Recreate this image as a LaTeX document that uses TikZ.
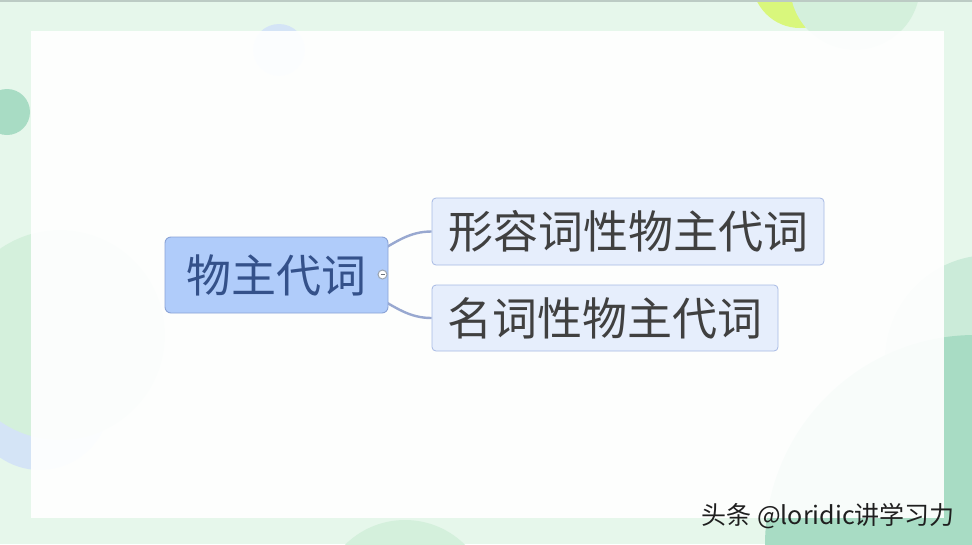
\documentclass[tikz,border=0pt]{standalone}
\usepackage{fontspec}
\setmainfont{Noto Sans CJK SC}
\definecolor{bggreen}{HTML}{E6F7EB}
\definecolor{lightgreen}{HTML}{D4F0DC}
\definecolor{midgreen}{HTML}{CBEBD9}
\definecolor{teal}{HTML}{A8DCC4}
\definecolor{yellowgreen}{HTML}{D9F77C}
\definecolor{paleblue}{HTML}{D4E4F6}
\definecolor{topline}{HTML}{BCCBC4}
\definecolor{rootfill}{HTML}{B0CCFA}
\definecolor{rootdraw}{HTML}{8AA3D6}
\definecolor{roottext}{HTML}{34518A}
\definecolor{kidfill}{HTML}{E6EEFC}
\definecolor{kiddraw}{HTML}{A7BAE4}
\definecolor{kidtext}{HTML}{404040}
\definecolor{linkcol}{HTML}{98A8D0}
\definecolor{markgray}{HTML}{9AA4B0}
\pgfdeclarelayer{deco}
\pgfdeclarelayer{links}
\pgfsetlayers{deco,links,main}
\tikzset{
  rootbox/.style={draw=rootdraw, fill=rootfill, line width=0.9pt, rounded corners=6pt,
    text=roottext, font=\fontsize{45}{50}\selectfont, inner sep=0pt,
    minimum width=223pt, minimum height=76pt},
  kidbox/.style={draw=kiddraw, fill=kidfill, line width=0.8pt, rounded corners=4pt,
    text=kidtext, font=\fontsize{45}{50}\selectfont, inner sep=0pt},
  link/.style={draw=linkcol, line width=2.4pt},
  marker/.style={circle, draw=markgray, fill=white, line width=1pt, inner sep=0pt, minimum size=9pt},
  wmark/.style={text=black!88, font=\fontsize{25}{28}\selectfont, inner sep=0pt}
}
\begin{document}
\begin{tikzpicture}[x=1pt,y=-1pt]
\useasboundingbox (0,0) rectangle (972,544);
\begin{pgfonlayer}{deco}
  \fill[bggreen] (0,0) rectangle (972,544);
  % decorative circles
  \fill[yellowgreen] (800,-20) circle (48);
  \fill[lightgreen] (855,-15) circle (65);
  \fill[teal] (7,112) circle (23);
  \fill[paleblue] (279,50) circle (26);
  \fill[paleblue] (40,400) circle (70);
  \fill[lightgreen] (60,335) circle (105);
  \fill[midgreen] (990,360) circle (105);
  \fill[teal] (975,545) circle (210);
  \fill[lightgreen] (405,605) circle (85);
  \fill[white, fill opacity=0.93] (31,31) rectangle (944,518);
  \fill[topline] (0,0) rectangle (972,2);
\end{pgfonlayer}

\node[rootbox] (root) at (276.5,275) {物主代词};
\node[kidbox, minimum width=392pt, minimum height=67pt] (k1) at (628,231.5) {形容词性物主代词};
\node[kidbox, minimum width=346pt, minimum height=66pt] (k2) at (605,318) {名词性物主代词};

\begin{pgfonlayer}{links}
  \draw[link] (root.center) .. controls (380,275) and (386,231.5) .. (k1.west);
  \draw[link] (root.center) .. controls (380,275) and (386,318) .. (k2.west);
\end{pgfonlayer}

\node[marker] (mk) at (382.5,274.5) {};
\draw[line width=1.2pt, markgray!70!black] ([xshift=-2pt]mk.center) -- ([xshift=2pt]mk.center);

\node[wmark, anchor=east] (wm) at (955,516) {头条 @loridic讲学习力};
\end{tikzpicture}
\end{document}
